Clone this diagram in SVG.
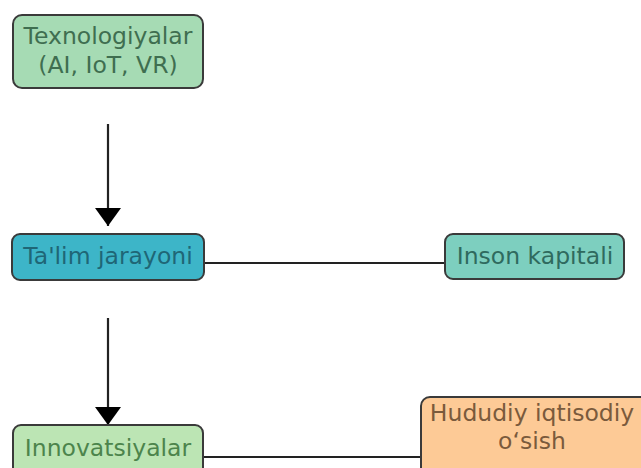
<svg xmlns="http://www.w3.org/2000/svg" width="641" height="468" viewBox="0 0 641 468">
<defs>
<marker id="arr" viewBox="0 0 18 26" refX="18" refY="13" markerWidth="18" markerHeight="26" markerUnits="userSpaceOnUse" orient="auto">
<path d="M0,0 L18,13 L0,26 z" fill="#000"/>
</marker>
<style>
.box{stroke:#3a3a3a;stroke-width:2}
.t{font-family:"DejaVu Sans",Verdana,sans-serif;font-size:23.5px;text-anchor:middle}
.edge{stroke:#222;stroke-width:2.2;fill:none}
</style>
</defs>
<rect width="641" height="468" fill="#ffffff"/>
<g id="connectors">
<line class="edge" x1="108" y1="124" x2="108" y2="226" marker-end="url(#arr)"/>
<line class="edge" x1="108" y1="318" x2="108" y2="425" marker-end="url(#arr)"/>
<line class="edge" x1="204" y1="263" x2="445" y2="263"/>
<line class="edge" x1="203" y1="457" x2="421" y2="457"/>
</g>
<g id="node-texnologiyalar">
<rect class="box" x="13" y="15" width="190" height="73" rx="9" fill="#a6dbb4"/>
<text class="t" x="108" y="44" fill="#3f6e50">Texnologiyalar</text>
<text class="t" x="108" y="73" fill="#3f6e50">(AI, IoT, VR)</text>
</g>
<g id="node-talim">
<rect class="box" x="12" y="234" width="192" height="46" rx="8" fill="#3db5c8"/>
<text class="t" x="108" y="264" fill="#1f6676">Ta'lim jarayoni</text>
</g>
<g id="node-inson">
<rect class="box" x="445" y="234" width="179" height="45" rx="8" fill="#7dcfbf"/>
<text class="t" x="535" y="264" fill="#2f6a5e">Inson kapitali</text>
</g>
<g id="node-innovatsiyalar">
<rect class="box" x="13" y="425" width="190" height="55" rx="8" fill="#bce5b4"/>
<text class="t" x="108" y="456" fill="#4c844c">Innovatsiyalar</text>
</g>
<g id="node-hududiy">
<rect class="box" x="421" y="397" width="230" height="80" rx="9" fill="#fdca96"/>
<text class="t" x="532" y="421" fill="#7a5a3c">Hududiy iqtisodiy</text>
<text class="t" x="532" y="449" fill="#7a5a3c">o‘sish</text>
</g>
</svg>
